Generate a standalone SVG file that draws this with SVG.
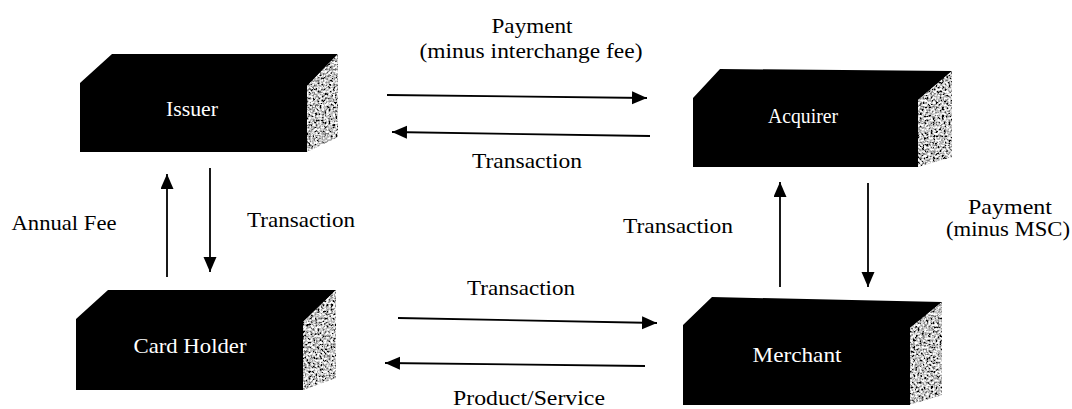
<svg xmlns="http://www.w3.org/2000/svg" width="1072" height="409" viewBox="0 0 1072 409">
<style>
.box{fill:#000}
.side{fill:#777;filter:url(#grain)}
.in{font-family:"Liberation Serif","Times New Roman",serif;font-size:21px;fill:#fff;text-anchor:middle}
.lbl{font-family:"Liberation Serif","Times New Roman",serif;font-size:21px;fill:#000;text-anchor:middle}
.ln{stroke:#000;stroke-width:1.8;fill:none;marker-end:url(#ah)}
</style>
<defs>
<marker id="ah" markerUnits="userSpaceOnUse" markerWidth="16" markerHeight="14" refX="15" refY="6.5" orient="auto">
<path d="M0,0 L15,6.5 L0,13 z" fill="#000"/>
</marker>
<filter id="grain" x="0" y="0" width="100%" height="100%">
<feTurbulence type="fractalNoise" baseFrequency="0.45" numOctaves="3" seed="5" result="n"/>
<feColorMatrix in="n" type="matrix" values="2.6 0 0 0 -0.75  2.6 0 0 0 -0.75  2.6 0 0 0 -0.75  0 0 0 0 1" result="g"/>
<feComposite in="g" in2="SourceGraphic" operator="in"/>
</filter>
</defs>
<rect width="1072" height="409" fill="#fff"/>

<g id="issuer">
<polygon class="box" points="80,83 112,54 338,54 307,86 307,152 80,152"/>
<polygon class="side" points="307,86 338,54 338,137 307,152"/>
<text class="in" x="192" y="116" textLength="52" lengthAdjust="spacingAndGlyphs">Issuer</text>
</g>

<g id="cardholder">
<polygon class="box" points="76,319 108,290 336,290 303,322 303,390 76,390"/>
<polygon class="side" points="303,322 336,290 336,378 303,390"/>
<text class="in" x="190" y="353" textLength="113" lengthAdjust="spacingAndGlyphs">Card Holder</text>
</g>

<g id="acquirer">
<polygon class="box" points="693,98 720,69 952,71 918,100 918,167 693,167"/>
<polygon class="side" points="918,100 952,71 952,157 918,167"/>
<text class="in" x="803" y="123" textLength="70" lengthAdjust="spacingAndGlyphs">Acquirer</text>
</g>

<g id="merchant">
<polygon class="box" points="683,325 712,297 942,302 910,328 910,405 683,405"/>
<polygon class="side" points="910,328 942,302 942,395 910,405"/>
<text class="in" x="797" y="362" textLength="89" lengthAdjust="spacingAndGlyphs">Merchant</text>
</g>

<g id="connectors">
<line class="ln" x1="387" y1="95" x2="647" y2="98"/>
<line class="ln" x1="650" y1="136" x2="392" y2="132"/>
<line class="ln" x1="398" y1="318" x2="657" y2="323"/>
<line class="ln" x1="645" y1="366" x2="385" y2="363"/>
<line class="ln" x1="167" y1="277" x2="167" y2="174"/>
<line class="ln" x1="210" y1="168" x2="210" y2="272"/>
<line class="ln" x1="780" y1="287" x2="780" y2="182"/>
<line class="ln" x1="868" y1="183" x2="868" y2="287"/>
</g>

<g id="labels">
<text class="lbl" x="532" y="33" textLength="81" lengthAdjust="spacingAndGlyphs">Payment</text>
<text class="lbl" x="531" y="58" textLength="223" lengthAdjust="spacingAndGlyphs">(minus interchange fee)</text>
<text class="lbl" x="527" y="168" textLength="110" lengthAdjust="spacingAndGlyphs">Transaction</text>
<text class="lbl" x="64" y="230" textLength="105" lengthAdjust="spacingAndGlyphs">Annual Fee</text>
<text class="lbl" x="301" y="227" textLength="108" lengthAdjust="spacingAndGlyphs">Transaction</text>
<text class="lbl" x="678" y="233" textLength="110" lengthAdjust="spacingAndGlyphs">Transaction</text>
<text class="lbl" x="1010" y="214" textLength="84" lengthAdjust="spacingAndGlyphs">Payment</text>
<text class="lbl" x="1008" y="236" textLength="124" lengthAdjust="spacingAndGlyphs">(minus MSC)</text>
<text class="lbl" x="521" y="295" textLength="108" lengthAdjust="spacingAndGlyphs">Transaction</text>
<text class="lbl" x="529" y="405" textLength="152" lengthAdjust="spacingAndGlyphs">Product/Service</text>
</g>
</svg>
